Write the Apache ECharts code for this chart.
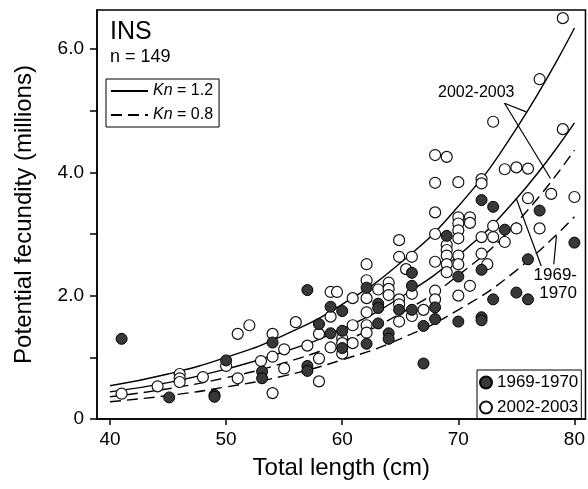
<!DOCTYPE html>
<html>
<head>
<meta charset="utf-8">
<script src="https://cdn.jsdelivr.net/npm/echarts@6/dist/echarts.min.js"></script>
<style>
    html, body { margin: 0; padding: 0; background: #fff; }
    #main { width: 588px; height: 489px; }
</style>
</head>
<body>
<div id="main"></div>
<script>
// tick values
const xTicks = [40, 50, 60, 70, 80];
const yTicks = [0, 1, 2, 3, 4, 5, 6];
const yLabels = [0, 2, 4, 6];

// [total length (cm), potential fecundity (millions)]
const fish1969 = [
    [41.0, 1.30], [45.1, 0.35], [49.0, 0.39], [49.0, 0.36], [50.0, 0.95],
    [53.1, 0.77], [53.1, 0.66], [54.0, 1.24], [57.0, 2.09], [57.0, 0.86],
    [57.0, 0.78], [58.0, 1.54], [59.0, 1.82], [59.0, 1.39], [60.0, 1.75],
    [60.0, 1.43], [60.0, 1.15], [62.1, 2.13], [62.1, 1.22], [63.1, 1.87],
    [63.1, 1.80], [63.1, 1.55], [64.0, 1.39], [64.0, 1.30], [64.9, 1.77],
    [66.0, 2.37], [66.0, 2.16], [66.0, 1.77], [67.0, 1.51], [67.0, 0.90],
    [68.0, 1.81], [68.0, 1.62], [69.0, 2.97], [70.0, 2.31], [70.0, 1.58],
    [72.0, 3.55], [72.0, 2.42], [72.0, 1.65], [72.0, 1.60], [73.0, 3.44],
    [73.0, 1.94], [74.0, 3.07], [75.0, 2.05], [76.0, 2.59], [76.0, 1.94],
    [77.0, 3.38], [80.0, 2.86]
];
const fish2002 = [
    [41.0, 0.41], [44.1, 0.53], [46.0, 0.73], [46.0, 0.66], [46.0, 0.60],
    [48.0, 0.68], [50.0, 0.86], [51.0, 1.38], [51.0, 0.66], [52.0, 1.52],
    [53.0, 0.94], [54.0, 1.38], [54.0, 1.01], [54.0, 0.42], [55.0, 1.13],
    [55.0, 0.82], [56.0, 1.57], [57.0, 1.19], [58.0, 1.38], [58.0, 0.98],
    [58.0, 0.61], [59.0, 2.06], [59.55, 2.06], [59.0, 1.66], [59.0, 1.16],
    [60.0, 1.31], [60.0, 1.23], [60.0, 1.06], [60.9, 1.96], [60.9, 1.52],
    [60.9, 1.23], [62.1, 2.51], [62.1, 2.25], [62.1, 1.96], [62.1, 1.73],
    [62.1, 1.52], [62.1, 1.40], [63.1, 2.10], [64.0, 2.21], [64.0, 2.11],
    [64.0, 2.01], [64.9, 2.90], [64.9, 2.63], [64.9, 1.94], [64.9, 1.86],
    [64.9, 1.58], [65.5, 2.43], [66.0, 2.63], [66.0, 2.03], [66.0, 1.67],
    [67.0, 1.77], [68.0, 4.28], [68.0, 3.83], [68.0, 3.35], [68.0, 3.00],
    [68.0, 2.55], [68.0, 2.08], [68.0, 1.94], [69.0, 4.25], [69.0, 2.82],
    [69.0, 2.74], [69.0, 2.65], [69.0, 2.51], [69.0, 2.38], [70.0, 3.84],
    [70.0, 3.27], [70.0, 3.17], [70.0, 3.06], [70.0, 2.93], [70.0, 2.65],
    [70.0, 2.51], [70.0, 2.00], [71.0, 3.27], [71.0, 3.18], [71.0, 2.16],
    [72.0, 3.89], [72.0, 3.82], [72.0, 2.95], [72.0, 2.68], [72.5, 2.51],
    [73.0, 4.82], [73.0, 3.13], [73.0, 2.95], [74.0, 4.05], [74.0, 2.87],
    [75.0, 4.08], [75.0, 3.09], [76.0, 4.06], [76.0, 3.58], [77.0, 5.51],
    [77.0, 3.09], [78.0, 3.65], [79.0, 6.50], [79.0, 4.70], [80.0, 3.60]
];

// fitted curves
const curveLength = [40, 45, 50, 55, 60, 65, 70, 75, 80];
const kn12y2002 = [0.54, 0.73, 1.00, 1.36, 1.86, 2.53, 3.45, 4.71, 6.34];
const kn08y2002 = [0.36, 0.49, 0.67, 0.91, 1.25, 1.71, 2.33, 3.18, 4.36];
const kn12y1969 = [0.44, 0.59, 0.81, 1.09, 1.46, 1.97, 2.65, 3.57, 4.80];
const kn08y1969 = [0.28, 0.38, 0.52, 0.70, 0.96, 1.30, 1.77, 2.41, 3.28];

// label leader lines, data coords
const leaderLines = [
    [[73.98, 5.12], [75.84, 4.98]],
    [[73.98, 5.12], [77.94, 3.90]],
    [[77.14, 2.48], [74.98, 3.58]],
    [[78.22, 2.51], [78.45, 2.97]]
];

const font = 'Liberation Sans, Arial, Helvetica, sans-serif';

function curve(name, ys, dashed) {
    return {
        name: name,
        type: 'line',
        smooth: true,
        symbol: 'none',
        silent: true,
        color: '#000',
        data: curveLength.map((x, i) => [x, ys[i]]),
        lineStyle: {
            color: '#000',
            width: 1.4,
            type: dashed ? [11, 6] : 'solid'
        },
        z: 2
    };
}

var myChart = echarts.init(document.getElementById('main'));
myChart.setOption({
    animation: false,
    textStyle: { fontFamily: font, color: '#000' },
    grid: {
        left: 97,
        right: 2,
        top: 10,
        bottom: 70,
        show: true,
        borderColor: '#000',
        borderWidth: 1.5
    },
    xAxis: {
        type: 'value',
        min: 38.88,
        max: 80.95,
        name: 'Total length (cm)',
        nameLocation: 'middle',
        nameGap: 37,
        nameTextStyle: { fontSize: 24, color: '#000', fontFamily: font },
        axisLine: { lineStyle: { color: '#000', width: 1.5 } },
        axisTick: { customValues: xTicks, length: 6, lineStyle: { color: '#000', width: 1.5 } },
        axisLabel: { customValues: xTicks, fontSize: 19, color: '#000', margin: 11 },
        splitLine: { show: false }
    },
    yAxis: {
        type: 'value',
        min: 0,
        max: 6.632,
        name: 'Potential fecundity (millions)',
        nameLocation: 'middle',
        nameGap: 61,
        nameTextStyle: { fontSize: 24, color: '#000', fontFamily: font },
        axisLine: { lineStyle: { color: '#000', width: 1.5 } },
        axisTick: { customValues: yTicks, length: 7, lineStyle: { color: '#000', width: 1.5 } },
        axisLabel: {
            customValues: yLabels,
            fontSize: 19,
            color: '#000',
            margin: 13,
            formatter: v => (v === 0 ? '0' : v.toFixed(1))
        },
        splitLine: { show: false }
    },
    legend: [
        {
            data: ['Kn = 1.2', 'Kn = 0.8'],
            orient: 'vertical',
            left: 106,
            top: 79,
            padding: [4, 6, 4, 4],
            itemWidth: 37,
            itemHeight: 14,
            itemGap: 8,
            borderColor: '#000',
            borderWidth: 1,
            selectedMode: false,
            itemStyle: { opacity: 0 },
            formatter: n => '{i|Kn}' + n.slice(2),
            textStyle: {
                fontSize: 16,
                color: '#000',
                rich: { i: { fontStyle: 'italic', fontSize: 16 } }
            }
        },
        {
            data: ['1969-1970', '2002-2003'],
            orient: 'vertical',
            left: 477,
            top: 370,
            padding: [4, 3, 3, 2],
            itemWidth: 12,
            itemHeight: 12,
            itemGap: 8,
            borderColor: '#000',
            borderWidth: 1,
            selectedMode: false,
            textStyle: { fontSize: 17, color: '#000' }
        }
    ],
    graphic: [
        { type: 'text', left: 110, top: 20, style: { text: 'INS', fontSize: 25, fontFamily: font, fill: '#000' } },
        { type: 'text', left: 110, top: 48, style: { text: 'n = 149', fontSize: 18, fontFamily: font, fill: '#000' } },
        { type: 'text', left: 438, top: 85, style: { text: '2002-2003', fontSize: 16, fontFamily: font, fill: '#000' } },
        { type: 'text', right: 11, top: 267, style: { text: '1969-', fontSize: 17, fontFamily: font, fill: '#000' } },
        { type: 'text', right: 11, top: 285, style: { text: '1970', fontSize: 17, fontFamily: font, fill: '#000' } }
    ],
    series: [
        curve('Kn = 1.2', kn12y2002, false),
        curve('Kn = 0.8', kn08y2002, true),
        curve('Kn = 1.2', kn12y1969, false),
        curve('Kn = 0.8', kn08y1969, true),
        {
            name: 'leaders',
            type: 'lines',
            coordinateSystem: 'cartesian2d',
            silent: true,
            data: leaderLines.map(c => ({ coords: c })),
            lineStyle: { color: '#000', width: 1.2, opacity: 1 },
            z: 2
        },
        {
            name: '2002-2003',
            type: 'scatter',
            symbol: 'circle',
            symbolSize: 11,
            data: fish2002,
            itemStyle: { color: '#fff', borderColor: '#111', borderWidth: 1.2, opacity: 1 },
            z: 3
        },
        {
            name: '1969-1970',
            type: 'scatter',
            symbol: 'circle',
            symbolSize: 11,
            data: fish1969,
            itemStyle: { color: '#383838', borderColor: '#000', borderWidth: 1, opacity: 1 },
            z: 4
        }
    ]
});
</script>
</body>
</html>
